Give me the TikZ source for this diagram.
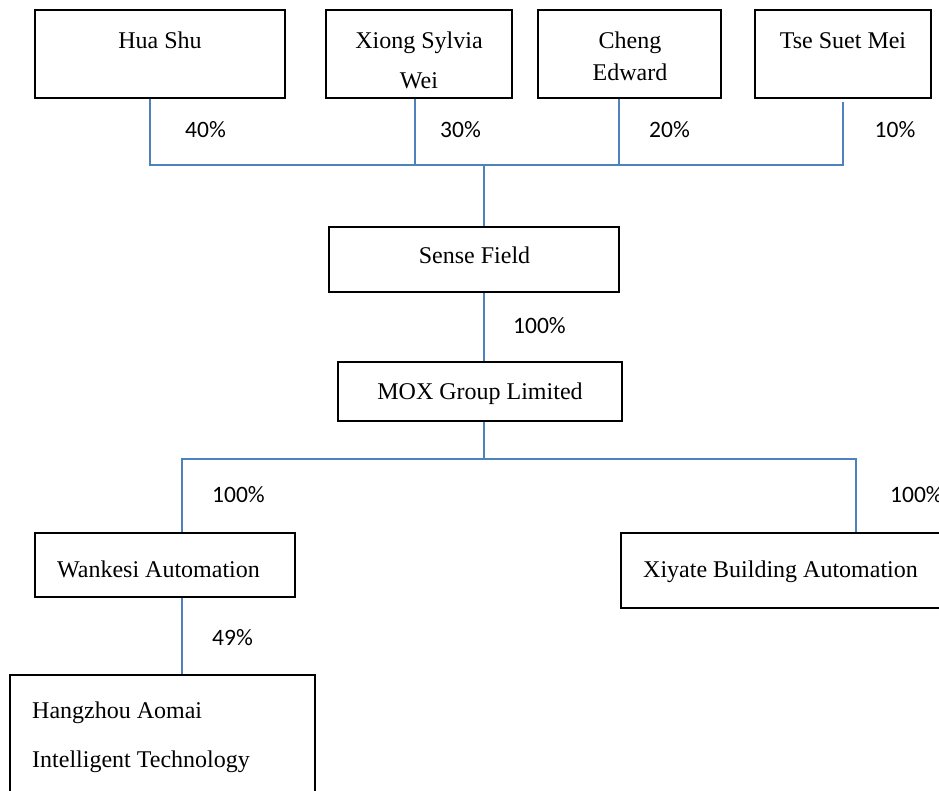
\documentclass[tikz,border=0pt]{standalone}
\usepackage{fontspec}
\setmainfont{Liberation Serif}
\newfontfamily\pctfont{Carlito}
\begin{document}
\begin{tikzpicture}[x=1pt,y=-1pt,
  box/.style={draw=black,line width=2.5pt,rectangle,inner sep=0pt},
  txt/.style={font=\fontsize{24}{28}\selectfont,inner sep=0pt,anchor=base},
  txtw/.style={txt,anchor=base west},
  pct/.style={font=\pctfont\fontsize{23.5}{28}\selectfont,inner sep=0pt,anchor=base},
  pctw/.style={pct,anchor=base west},
  link/.style={draw={rgb,255:red,79;green,129;blue,189},line width=1.6pt}]
\useasboundingbox (0,0) rectangle (939,790);
\clip (0,0) rectangle (939,790);
\fill[white] (0,0) rectangle (939,790);
% boxes
\node[box,minimum width=250,minimum height=88] (hua) at (160,54) {};
\node[box,minimum width=186,minimum height=88] (xiong) at (419,54) {};
\node[box,minimum width=183,minimum height=88] (cheng) at (629.5,54) {};
\node[box,minimum width=176,minimum height=88] (tse) at (843,54) {};
\node[box,minimum width=290,minimum height=65] (sense) at (474,259.5) {};
\node[box,minimum width=284,minimum height=59] (mox) at (480,391.5) {};
\node[box,minimum width=260,minimum height=64] (wank) at (165,565) {};
\node[box,minimum width=340,minimum height=75] (xiyate) at (791,570.5) {};
\node[box,minimum width=305,minimum height=145] (hang) at (162.5,747.5) {};
% box texts
\node[txt] (thua) at (160,48) {Hua Shu};
\node[txt] (txiong1) at (419,48) {Xiong Sylvia};
\node[txt] (txiong2) at (419,88) {Wei};
\node[txt] (tcheng1) at (630,48) {Cheng};
\node[txt] (tcheng2) at (630,80) {Edward};
\node[txt] (ttse) at (843,48) {Tse Suet Mei};
\node[txt] (tsense) at (474.5,263) {Sense Field};
\node[txt] (tmox) at (480,399) {MOX Group Limited};
\node[txtw] (twank) at (57,577) {Wankesi Automation};
\node[txtw] (txiyate) at (643,577) {Xiyate Building Automation};
\node[txtw] (thang1) at (32,718) {Hangzhou Aomai};
\node[txtw] (thang2) at (32,767) {Intelligent Technology};
% junction coordinates
\coordinate (jhua) at (150,165);
\coordinate (jxiong) at (415,165);
\coordinate (jcheng) at (619,165);
\coordinate (jtse) at (843,165);
\coordinate (jtop) at (484,165);
\coordinate (tsegap) at (843,102);
\coordinate (jlow) at (484,459);
\coordinate (jwank) at (182,459);
\coordinate (jxiy) at (856,459);
% connectors
\draw[link] (jhua |- hua.south) -- (jhua) -- (jtse) -- (tsegap);
\draw[link] (jxiong |- xiong.south) -- (jxiong);
\draw[link] (jcheng |- cheng.south) -- (jcheng);
\draw[link] (jtop) -- (jtop |- sense.north);
\draw[link] (jtop |- sense.south) -- (jtop |- mox.north);
\draw[link] (jlow |- mox.south) -- (jlow);
\draw[link] (jwank |- wank.north) -- (jwank) -- (jxiy) -- (jxiy |- xiyate.north);
\draw[link] (jwank |- wank.south) -- (jwank |- hang.north);
% percentages
\node[pct] (p40) at (205.5,137) {40\%};
\node[pctw] (p30) at (440,137) {30\%};
\node[pct] (p20) at (669.5,137) {20\%};
\node[pct] (p10) at (895,137) {10\%};
\node[pctw] (p100a) at (513,333) {100\%};
\node[pctw] (p100b) at (212,502) {100\%};
\node[pctw] (p100c) at (890,502) {100\%};
\node[pctw] (p49) at (212,645) {49\%};
\end{tikzpicture}
\end{document}
